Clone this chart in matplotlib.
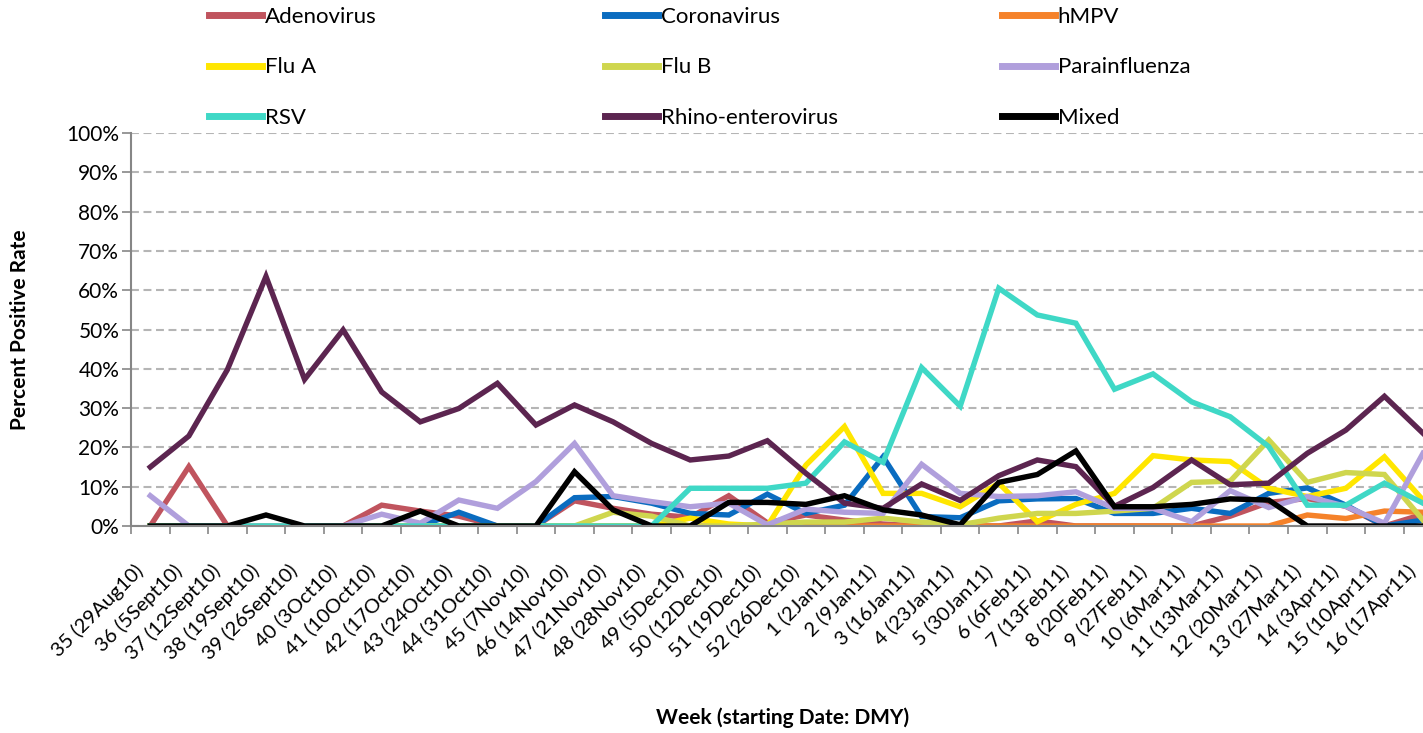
import matplotlib
matplotlib.use("Agg")
import matplotlib.pyplot as plt
from matplotlib.ticker import FixedLocator

plt.rcParams['font.family'] = ['Lato', 'DejaVu Sans']

weeks = ["35 (29Aug10)", "36 (5Sept10)", "37 (12Sept10)", "38 (19Sept10)", "39 (26Sept10)",
         "40 (3Oct10)", "41 (10Oct10)", "42 (17Oct10)", "43 (24Oct10)", "44 (31Oct10)",
         "45 (7Nov10)", "46 (14Nov10)", "47 (21Nov10)", "48 (28Nov10)", "49 (5Dec10)",
         "50 (12Dec10)", "51 (19Dec10)", "52 (26Dec10)", "1 (2Jan11)", "2 (9Jan11)",
         "3 (16Jan11)", "4 (23Jan11)", "5 (30Jan11)", "6 (6Feb11)", "7 (13Feb11)",
         "8 (20Feb11)", "9 (27Feb11)", "10 (6Mar11)", "11 (13Mar11)", "12 (20Mar11)",
         "13 (27Mar11)", "14 (3Apr11)", "15 (10Apr11)", "16 (17Apr11)"]

adenovirus = [0, 15.1, 0, 0, 0, 0, 5.3, 3.8, 2.5, 0, 0, 6.4, 4.5, 3.0, 2.2, 7.7, 0.8, 2.8,
              1.5, 0.5, 0, 0, 0, 1.3, 0, 0, 0, 0, 2.5, 6.0, 7.0, 5.0, 0, 3.0]
coronavirus = [0, 0, 0, 0, 0, 0, 0, 0, 3.5, 0, 0, 7.2, 7.5, 5.8, 3.2, 2.8, 8.1, 3.2,
               5.3, 17.6, 2.4, 2.1, 6.4, 6.9, 7.0, 3.2, 3.2, 4.5, 3.2, 8.3, 9.7, 5.3, 0, 1.5]
hmpv = [0] * 30 + [2.8, 1.9, 3.8, 3.5]
flu_a = [0] * 14 + [2.0, 0.5, 0, 15.5, 25.3, 8.3, 8.3, 4.9, 10.9, 1.1, 5.5, 8.3, 17.9,
                    16.8, 16.4, 9.6, 7.5, 9.6, 17.6, 6.6]
flu_b = [0] * 12 + [3.5, 2.5, 0, 0, 0.5, 1.0, 1.0, 2.0, 1.0, 0.3, 2.0, 3.2, 3.2, 3.8,
                    4.5, 11.1, 11.4, 21.9, 11.1, 13.6, 13.1, 1.5]
parainfluenza = [7.7, 0, 0, 0, 0, 0, 3.0, 0.7, 6.6, 4.5, 11.3, 21.0, 7.7, 6.2, 4.9, 5.8,
                 0.3, 4.3, 3.5, 3.2, 15.7, 8.3, 7.5, 7.7, 8.7, 4.5, 4.5, 1.1, 9.0, 4.7,
                 7.5, 5.0, 0.7, 18.5]
rsv = [0] * 14 + [9.6, 9.6, 9.6, 10.9, 21.4, 16.2, 40.3, 30.5, 60.5, 53.7, 51.6, 34.8,
                  38.7, 31.6, 27.8, 20.2, 5.3, 5.3, 10.9, 5.8]
rhino = [15.0, 22.9, 39.8, 63.5, 37.3, 49.9, 34.1, 26.5, 29.9, 36.3, 25.7, 30.8, 26.5,
         21.0, 16.8, 17.8, 21.7, 13.4, 5.8, 4.5, 10.7, 6.5, 12.8, 16.8, 15.1, 5.0, 9.8,
         16.8, 10.5, 10.9, 18.5, 24.4, 33.0, 23.6]
mixed = [0, 0, 0, 2.8, 0, 0, 0, 3.8, 0, 0, 0, 13.8, 4.1, 0, 0, 6.0, 6.0, 5.5, 7.7, 4.1,
         2.8, 0.3, 11.1, 13.1, 19.1, 4.9, 4.9, 5.5, 6.9, 6.6, 0, 0, 0, 0]

names = ["Adenovirus", "Coronavirus", "hMPV", "Flu A", "Flu B", "Parainfluenza",
         "RSV", "Rhino-enterovirus", "Mixed"]
series = [adenovirus, coronavirus, hmpv, flu_a, flu_b, parainfluenza, rsv, rhino, mixed]
colors = ["#c0545e", "#0a6cc0", "#f5822a", "#ffe600", "#cfd64e", "#b09fdc",
          "#3fd8c6", "#5c2550", "#000000"]

fig = plt.figure(figsize=(14.23, 7.33), dpi=100)
ax = fig.add_axes([131 / 1423, 1 - 526 / 733, 1 - 131 / 1423, (526 - 133) / 733])

x = list(range(len(weeks)))
lines = {}
for name, vals, c in zip(names, series, colors):
    ln, = ax.plot(x, vals, color=c, lw=3.9, solid_joinstyle='miter', label=name)
    lines[name] = ln

ax.set_xlim(-0.5, 33.0)
ax.set_ylim(0, 100)

ax.set_yticks(range(0, 101, 10))
ax.set_yticklabels([f"{v}%" for v in range(0, 101, 10)], fontsize=15)
ax.yaxis.grid(True, color="#b5b5b5", lw=1.5, linestyle=(0, (3.8, 2.2)))
ax.set_axisbelow(True)

# category labels drawn as rotated text, nudged left so the last one fits
ax.set_xticks(x)
ax.set_xticklabels([])
ax.tick_params(axis='x', which='major', length=0)
for i, w in enumerate(weeks):
    ax.annotate(w, xy=(i, 0), xycoords=('data', 'axes fraction'),
                xytext=(-10, -42), textcoords='offset pixels', rotation=45,
                ha='right', va='center', rotation_mode='anchor', fontsize=14.5,
                annotation_clip=False)
ax.xaxis.set_minor_locator(FixedLocator([i - 0.5 for i in range(len(weeks) + 1)]))
ax.tick_params(axis='x', which='minor', length=6, width=1.2, color="#868686")
ax.tick_params(axis='y', length=6.5, width=1.2, color="#868686", pad=2)

for s in ['top', 'right']:
    ax.spines[s].set_visible(False)
for s in ['left', 'bottom']:
    ax.spines[s].set_color("#868686")
    ax.spines[s].set_linewidth(1.5)

# legend: three columns placed by hand
cols = [["Adenovirus", "Flu A", "RSV"],
        ["Coronavirus", "Flu B", "Rhino-enterovirus"],
        ["hMPV", "Parainfluenza", "Mixed"]]
col_x = [209, 605, 1002]
for cx, col in zip(col_x, cols):
    leg = fig.legend([lines[n] for n in col], col, loc='upper left',
                     bbox_to_anchor=(cx / 1423, 1 - 7 / 733), frameon=False,
                     fontsize=16, handlelength=2.4, handletextpad=0.1,
                     labelspacing=1.37, borderpad=0, borderaxespad=0)
    for h in leg.legend_handles:
        h.set_linewidth(5)

fig.text(20 / 1423, 1 - 330 / 733, "Percent Positive Rate", rotation=90,
         ha='center', va='center', fontsize=15, fontweight='bold')
fig.text(783 / 1423, 1 - 718 / 733, "Week (starting Date: DMY)",
         ha='center', va='center', fontsize=15, fontweight='bold')

fig.savefig("out.png", dpi=100)
